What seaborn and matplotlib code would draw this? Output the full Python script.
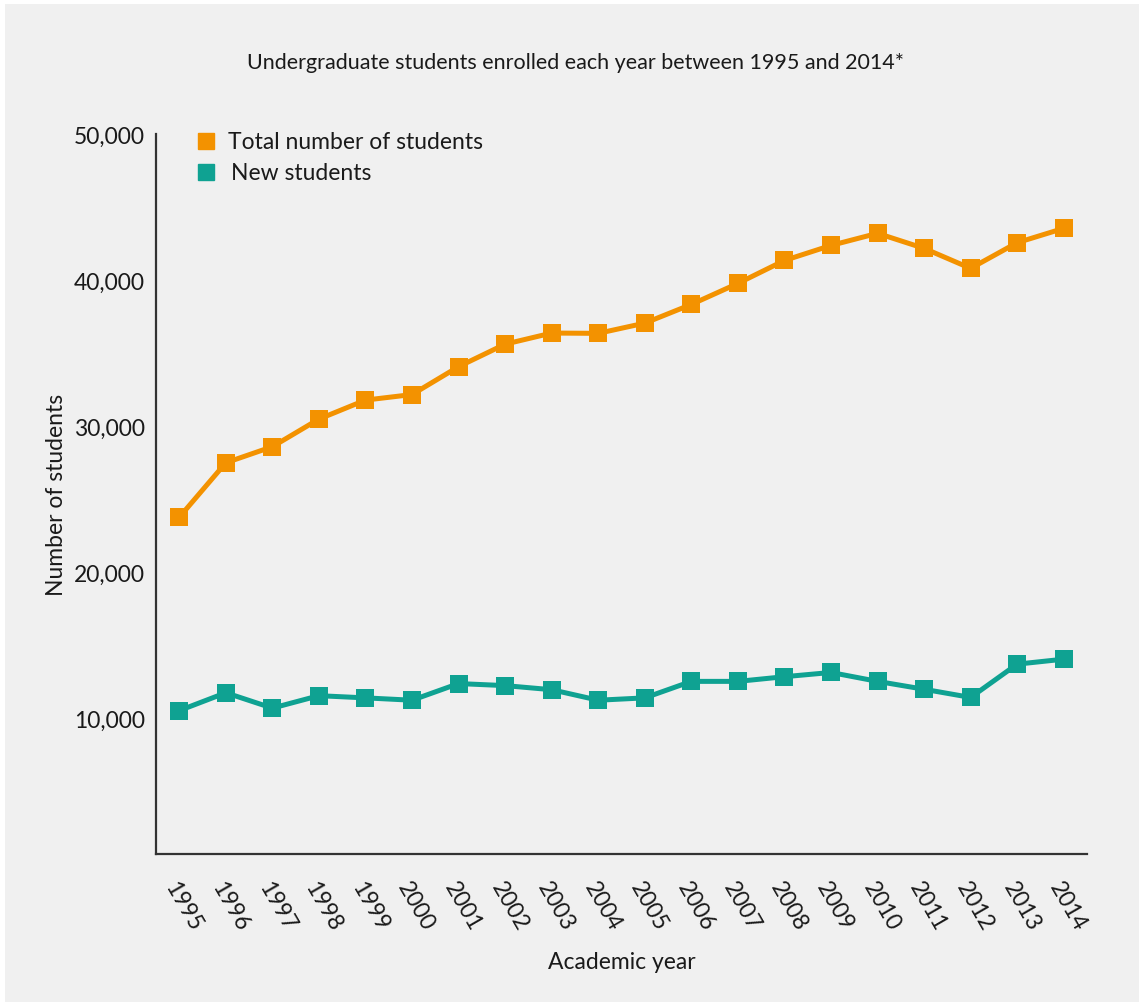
import seaborn as sns
import pandas as pd
import matplotlib.pyplot as plt
from matplotlib.patches import Rectangle
from matplotlib.ticker import FuncFormatter

years = list(range(1995, 2015))
total_students = [23760, 27490, 28590, 30480, 31780, 32160, 34070, 35610, 36370, 36350,
                  37050, 38330, 39770, 41340, 42370, 43200, 42170, 40800, 42560, 43540]
new_students = [10520, 11740, 10690, 11540, 11390, 11230, 12370, 12230, 11950, 11230,
                11390, 12520, 12520, 12840, 13130, 12520, 11980, 11420, 13700, 14040]
series_names = ["Total number of students", "New students"]
colors = ["#f39200", "#0fa292"]

df = pd.DataFrame({"year": years * 2,
                   "students": total_students + new_students,
                   "series": [series_names[0]] * len(years) + [series_names[1]] * len(years)})

sns.set_style("white")
plt.rcParams['font.family'] = ['Lato', 'DejaVu Sans']
bg = "#f0f0f0"
ink = "#1a1a1a"

fig = plt.figure(figsize=(11.39, 10.03), dpi=100, facecolor="white")
fig.patches.append(Rectangle((5 / 1139, 0), 1, 1 - 5 / 1003, transform=fig.transFigure,
                             facecolor=bg, edgecolor="none", zorder=-10))
ax = fig.add_axes([156 / 1139, 1 - 855 / 1003, (1087 - 156) / 1139, (855 - 135) / 1003])
ax.set_facecolor(bg)

sns.lineplot(data=df, x="year", y="students", hue="series", palette=colors,
             marker="s", markersize=12.5, markeredgewidth=0, linewidth=3.6,
             ax=ax, legend=False)

ax.set_xlim(1994.5, 2014.5)
ax.set_ylim(700, 50000)
ax.set_xticks(years)
ax.set_yticks([10000, 20000, 30000, 40000, 50000])
ax.yaxis.set_major_formatter(FuncFormatter(lambda v, p: f"{int(v):,}"))

for s in ["top", "right"]:
    ax.spines[s].set_visible(False)
for s in ["left", "bottom"]:
    ax.spines[s].set_color("#333333")
    ax.spines[s].set_linewidth(1.6)

ax.tick_params(axis="y", direction="in", length=11, width=1.5, color="#333333",
               labelsize=16.5, labelcolor=ink, pad=8)
ax.tick_params(axis="x", direction="out", length=10, width=1.2, color="#333333",
               labelsize=16.5, labelcolor=ink, pad=7)
for lbl in ax.get_xticklabels():
    lbl.set_rotation(-60)
    lbl.set_rotation_mode("anchor")
    lbl.set_ha("left")
    lbl.set_va("top")

ax.set_xlabel("Academic year", fontsize=16.5, color=ink, labelpad=12)
ax.set_ylabel("Number of students", fontsize=16.5, color=ink, labelpad=5)

# legend: squares only
for name, c, yy, xo in zip(series_names, colors, [0.99, 0.947], [0.077, 0.081]):
    ax.plot([0.054], [yy], transform=ax.transAxes, marker="s", markersize=12,
            color=c, linestyle="none", clip_on=False)
    ax.text(xo, yy, name, transform=ax.transAxes, fontsize=16.5, color=ink,
            va="center", ha="left")

fig.text(0.505, 1 - 63 / 1003, "Undergraduate students enrolled each year between 1995 and 2014*",
         fontsize=15.5, color=ink, ha="center", va="center")

fig.savefig("out.png", dpi=100, facecolor=fig.get_facecolor())
